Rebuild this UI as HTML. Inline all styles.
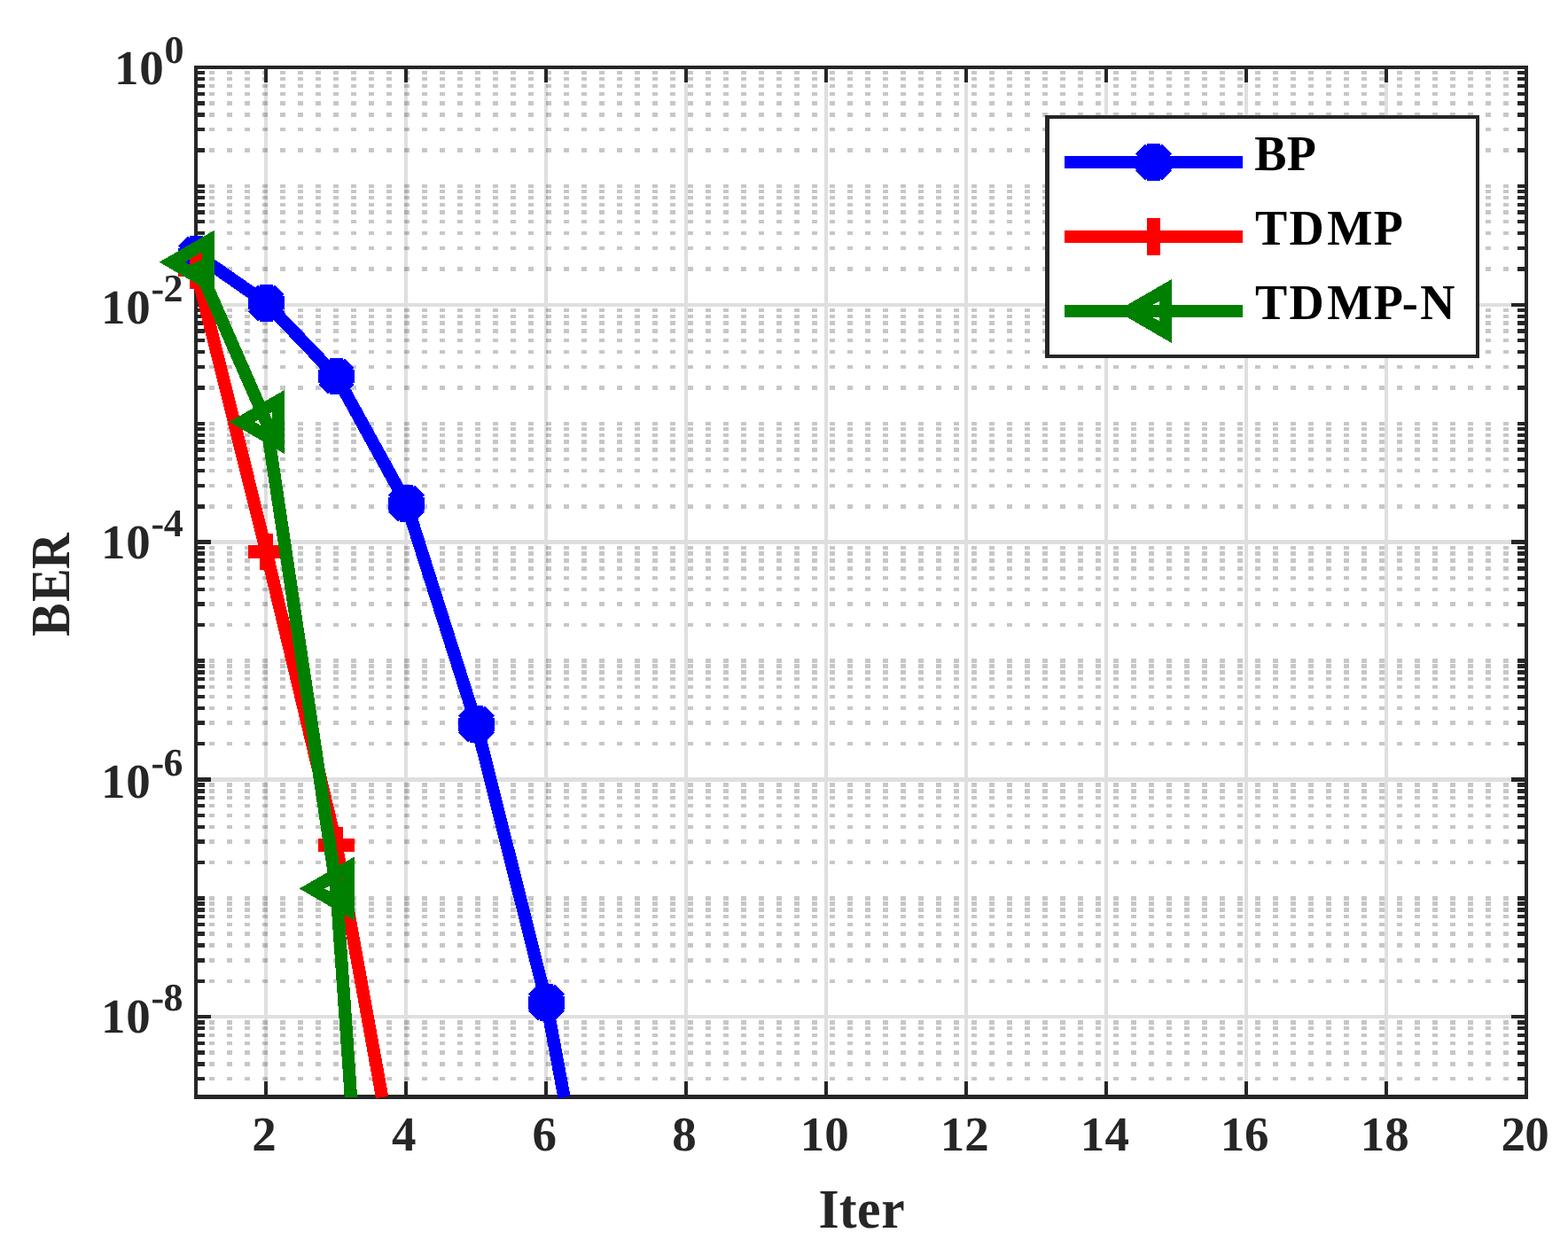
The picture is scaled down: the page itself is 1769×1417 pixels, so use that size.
<!DOCTYPE html>
<html lang="en"><head><meta charset="utf-8"><title>BER vs Iter</title>
<style>html,body{margin:0;padding:0;background:#fff}body{width:1769px;height:1417px;overflow:hidden}svg{display:block}text{font-family:"Liberation Serif","DejaVu Serif",serif;font-weight:bold;text-rendering:geometricPrecision}</style></head><body>
<svg width="1769" height="1417" viewBox="0 0 1769 1417">
<rect x="0" y="0" width="1769" height="1417" fill="#fff"/>
<g shape-rendering="crispEdges" fill="none">
<path stroke="#262626" stroke-opacity="0.26" stroke-width="4.4" stroke-dasharray="6 14" d="M236 82.23H1704M236 89.08H1704M236 96.84H1704M236 105.80H1704M236 116.40H1704M236 129.38H1704M236 146.11H1704M236 169.69H1704M236 209.99H1704M236 216.12H1704M236 222.97H1704M236 230.73H1704M236 239.69H1704M236 250.29H1704M236 263.27H1704M236 280.00H1704M236 303.58H1704M236 350.01H1704M236 356.86H1704M236 364.62H1704M236 373.58H1704M236 384.18H1704M236 397.16H1704M236 413.89H1704M236 437.47H1704M236 477.77H1704M236 483.90H1704M236 490.75H1704M236 498.51H1704M236 507.47H1704M236 518.07H1704M236 531.05H1704M236 547.78H1704M236 571.36H1704M236 617.79H1704M236 624.64H1704M236 632.40H1704M236 641.36H1704M236 651.96H1704M236 664.94H1704M236 681.67H1704M236 705.25H1704M236 745.55H1704M236 751.68H1704M236 758.53H1704M236 766.29H1704M236 775.25H1704M236 785.85H1704M236 798.83H1704M236 815.56H1704M236 839.14H1704M236 885.57H1704M236 892.42H1704M236 900.18H1704M236 909.14H1704M236 919.74H1704M236 932.72H1704M236 949.45H1704M236 973.03H1704M236 1013.33H1704M236 1019.46H1704M236 1026.31H1704M236 1034.07H1704M236 1043.03H1704M236 1053.63H1704M236 1066.61H1704M236 1083.34H1704M236 1106.92H1704M236 1153.35H1704M236 1160.20H1704M236 1167.96H1704M236 1176.92H1704M236 1187.52H1704M236 1200.50H1704M236 1217.23H1704"/>
<path stroke="#262626" stroke-opacity="0.15" stroke-width="4.4" d="M300.0 93.1V1220.5M458.0 93.1V1220.5M616.0 93.1V1220.5M774.0 93.1V1220.5M932.0 93.1V1220.5M1090.0 93.1V1220.5M1248.0 93.1V1220.5M1406.0 93.1V1220.5M1564.0 93.1V1220.5M238.0 343.88H1705.0M238.0 611.66H1705.0M238.0 879.44H1705.0M238.0 1147.22H1705.0"/>
<path stroke="#262626" stroke-width="4.4" stroke-linejoin="miter" d="M300.0 76.1v17M300.0 1237.5v-17.5M458.0 76.1v17M458.0 1237.5v-17.5M616.0 76.1v17M616.0 1237.5v-17.5M774.0 76.1v17M774.0 1237.5v-17.5M932.0 76.1v17M932.0 1237.5v-17.5M1090.0 76.1v17M1090.0 1237.5v-17.5M1248.0 76.1v17M1248.0 1237.5v-17.5M1406.0 76.1v17M1406.0 1237.5v-17.5M1564.0 76.1v17M1564.0 1237.5v-17.5M221.0 343.88h17M1722.0 343.88h-17M221.0 611.66h17M1722.0 611.66h-17M221.0 879.44h17M1722.0 879.44h-17M221.0 1147.22h17M1722.0 1147.22h-17M221.0 82.23h10M1722.0 82.23h-10M221.0 89.08h10M1722.0 89.08h-10M221.0 96.84h10M1722.0 96.84h-10M221.0 105.80h10M1722.0 105.80h-10M221.0 116.40h10M1722.0 116.40h-10M221.0 129.38h10M1722.0 129.38h-10M221.0 146.11h10M1722.0 146.11h-10M221.0 169.69h10M1722.0 169.69h-10M221.0 209.99h10M1722.0 209.99h-10M221.0 216.12h10M1722.0 216.12h-10M221.0 222.97h10M1722.0 222.97h-10M221.0 230.73h10M1722.0 230.73h-10M221.0 239.69h10M1722.0 239.69h-10M221.0 250.29h10M1722.0 250.29h-10M221.0 263.27h10M1722.0 263.27h-10M221.0 280.00h10M1722.0 280.00h-10M221.0 303.58h10M1722.0 303.58h-10M221.0 350.01h10M1722.0 350.01h-10M221.0 356.86h10M1722.0 356.86h-10M221.0 364.62h10M1722.0 364.62h-10M221.0 373.58h10M1722.0 373.58h-10M221.0 384.18h10M1722.0 384.18h-10M221.0 397.16h10M1722.0 397.16h-10M221.0 413.89h10M1722.0 413.89h-10M221.0 437.47h10M1722.0 437.47h-10M221.0 477.77h10M1722.0 477.77h-10M221.0 483.90h10M1722.0 483.90h-10M221.0 490.75h10M1722.0 490.75h-10M221.0 498.51h10M1722.0 498.51h-10M221.0 507.47h10M1722.0 507.47h-10M221.0 518.07h10M1722.0 518.07h-10M221.0 531.05h10M1722.0 531.05h-10M221.0 547.78h10M1722.0 547.78h-10M221.0 571.36h10M1722.0 571.36h-10M221.0 617.79h10M1722.0 617.79h-10M221.0 624.64h10M1722.0 624.64h-10M221.0 632.40h10M1722.0 632.40h-10M221.0 641.36h10M1722.0 641.36h-10M221.0 651.96h10M1722.0 651.96h-10M221.0 664.94h10M1722.0 664.94h-10M221.0 681.67h10M1722.0 681.67h-10M221.0 705.25h10M1722.0 705.25h-10M221.0 745.55h10M1722.0 745.55h-10M221.0 751.68h10M1722.0 751.68h-10M221.0 758.53h10M1722.0 758.53h-10M221.0 766.29h10M1722.0 766.29h-10M221.0 775.25h10M1722.0 775.25h-10M221.0 785.85h10M1722.0 785.85h-10M221.0 798.83h10M1722.0 798.83h-10M221.0 815.56h10M1722.0 815.56h-10M221.0 839.14h10M1722.0 839.14h-10M221.0 885.57h10M1722.0 885.57h-10M221.0 892.42h10M1722.0 892.42h-10M221.0 900.18h10M1722.0 900.18h-10M221.0 909.14h10M1722.0 909.14h-10M221.0 919.74h10M1722.0 919.74h-10M221.0 932.72h10M1722.0 932.72h-10M221.0 949.45h10M1722.0 949.45h-10M221.0 973.03h10M1722.0 973.03h-10M221.0 1013.33h10M1722.0 1013.33h-10M221.0 1019.46h10M1722.0 1019.46h-10M221.0 1026.31h10M1722.0 1026.31h-10M221.0 1034.07h10M1722.0 1034.07h-10M221.0 1043.03h10M1722.0 1043.03h-10M221.0 1053.63h10M1722.0 1053.63h-10M221.0 1066.61h10M1722.0 1066.61h-10M221.0 1083.34h10M1722.0 1083.34h-10M221.0 1106.92h10M1722.0 1106.92h-10M221.0 1153.35h10M1722.0 1153.35h-10M221.0 1160.20h10M1722.0 1160.20h-10M221.0 1167.96h10M1722.0 1167.96h-10M221.0 1176.92h10M1722.0 1176.92h-10M221.0 1187.52h10M1722.0 1187.52h-10M221.0 1200.50h10M1722.0 1200.50h-10M221.0 1217.23h10M1722.0 1217.23h-10M221.0 76.1H1722.0V1237.5H221.0Z"/>
</g>
<g shape-rendering="crispEdges">
<polyline points="221.50,287.00 300.50,341.90 379.50,424.50 458.50,568.00 537.50,817.00 616.50,1131.00 636.51,1238.00" fill="none" stroke="#0000ff" stroke-width="14.4" stroke-linejoin="miter"/>
<polygon points="214.00,266.05 229.00,266.05 229.00,268.89 231.01,266.88 241.62,277.49 239.61,279.50 242.45,279.50 242.45,294.50 239.61,294.50 241.62,296.51 231.01,307.12 229.00,305.11 229.00,307.95 214.00,307.95 214.00,305.11 211.99,307.12 201.38,296.51 203.39,294.50 200.55,294.50 200.55,279.50 203.39,279.50 201.38,277.49 211.99,266.88 214.00,268.89" fill="#0000ff"/>
<polygon points="293.00,320.95 308.00,320.95 308.00,323.79 310.01,321.78 320.62,332.39 318.61,334.40 321.45,334.40 321.45,349.40 318.61,349.40 320.62,351.41 310.01,362.02 308.00,360.01 308.00,362.85 293.00,362.85 293.00,360.01 290.99,362.02 280.38,351.41 282.39,349.40 279.55,349.40 279.55,334.40 282.39,334.40 280.38,332.39 290.99,321.78 293.00,323.79" fill="#0000ff"/>
<polygon points="372.00,403.55 387.00,403.55 387.00,406.39 389.01,404.38 399.62,414.99 397.61,417.00 400.45,417.00 400.45,432.00 397.61,432.00 399.62,434.01 389.01,444.62 387.00,442.61 387.00,445.45 372.00,445.45 372.00,442.61 369.99,444.62 359.38,434.01 361.39,432.00 358.55,432.00 358.55,417.00 361.39,417.00 359.38,414.99 369.99,404.38 372.00,406.39" fill="#0000ff"/>
<polygon points="451.00,547.05 466.00,547.05 466.00,549.89 468.01,547.88 478.62,558.49 476.61,560.50 479.45,560.50 479.45,575.50 476.61,575.50 478.62,577.51 468.01,588.12 466.00,586.11 466.00,588.95 451.00,588.95 451.00,586.11 448.99,588.12 438.38,577.51 440.39,575.50 437.55,575.50 437.55,560.50 440.39,560.50 438.38,558.49 448.99,547.88 451.00,549.89" fill="#0000ff"/>
<polygon points="530.00,796.05 545.00,796.05 545.00,798.89 547.01,796.88 557.62,807.49 555.61,809.50 558.45,809.50 558.45,824.50 555.61,824.50 557.62,826.51 547.01,837.12 545.00,835.11 545.00,837.95 530.00,837.95 530.00,835.11 527.99,837.12 517.38,826.51 519.39,824.50 516.55,824.50 516.55,809.50 519.39,809.50 517.38,807.49 527.99,796.88 530.00,798.89" fill="#0000ff"/>
<polygon points="609.00,1110.05 624.00,1110.05 624.00,1112.89 626.01,1110.88 636.62,1121.49 634.61,1123.50 637.45,1123.50 637.45,1138.50 634.61,1138.50 636.62,1140.51 626.01,1151.12 624.00,1149.11 624.00,1151.95 609.00,1151.95 609.00,1149.11 606.99,1151.12 596.38,1140.51 598.39,1138.50 595.55,1138.50 595.55,1123.50 598.39,1123.50 596.38,1121.49 606.99,1110.88 609.00,1112.89" fill="#0000ff"/>
<polyline points="221.50,305.00 300.50,622.50 379.50,953.50 431.11,1238.00" fill="none" stroke="#ff0000" stroke-width="14.4" stroke-linejoin="miter"/>
<path d="M200.55 297.80H242.45V312.20H200.55ZM214.30 284.05H228.70V325.95H214.30Z" fill="#ff0000"/>
<path d="M279.55 615.30H321.45V629.70H279.55ZM293.30 601.55H307.70V643.45H293.30Z" fill="#ff0000"/>
<path d="M358.55 946.30H400.45V960.70H358.55ZM372.30 932.55H386.70V974.45H372.30Z" fill="#ff0000"/>
<polyline points="221.50,295.75 300.50,476.00 379.50,1002.50 395.94,1238.00" fill="none" stroke="#008000" stroke-width="14.4" stroke-linejoin="miter"/>
<path d="M179.60 295.75 L242.45 259.46 L242.45 332.04 Z M208.40 295.75 L228.05 307.09 L228.05 284.41 Z" fill="#008000" fill-rule="evenodd"/>
<path d="M258.60 476.00 L321.45 439.71 L321.45 512.29 Z M287.40 476.00 L307.05 487.34 L307.05 464.66 Z" fill="#008000" fill-rule="evenodd"/>
<path d="M337.60 1002.50 L400.45 966.21 L400.45 1038.79 Z M366.40 1002.50 L386.05 1013.84 L386.05 991.16 Z" fill="#008000" fill-rule="evenodd"/>
<rect x="1181.5" y="132" width="485.5" height="270" fill="#fff" stroke="#262626" stroke-width="4.4"/>
<path d="M1201.0 183.0H1402.0" stroke="#0000ff" stroke-width="14.4" fill="none"/>
<polygon points="1294.00,162.05 1309.00,162.05 1309.00,164.89 1311.01,162.88 1321.62,173.49 1319.61,175.50 1322.45,175.50 1322.45,190.50 1319.61,190.50 1321.62,192.51 1311.01,203.12 1309.00,201.11 1309.00,203.95 1294.00,203.95 1294.00,201.11 1291.99,203.12 1281.38,192.51 1283.39,190.50 1280.55,190.50 1280.55,175.50 1283.39,175.50 1281.38,173.49 1291.99,162.88 1294.00,164.89" fill="#0000ff"/>
<path d="M1201.0 267.0H1402.0" stroke="#ff0000" stroke-width="14.4" fill="none"/>
<path d="M1280.55 259.80H1322.45V274.20H1280.55ZM1294.30 246.05H1308.70V287.95H1294.30Z" fill="#ff0000"/>
<path d="M1201.0 351.0H1402.0" stroke="#008000" stroke-width="14.4" fill="none"/>
<path d="M1259.60 351.00 L1322.45 314.71 L1322.45 387.29 Z M1288.40 351.00 L1308.05 362.34 L1308.05 339.66 Z" fill="#008000" fill-rule="evenodd"/>
</g>
<text id="xt2" transform="translate(284.30 1298.00)" x="0.00" y="0" font-size="55.00" fill="#262626">2</text>
<text id="xt4" transform="translate(441.89 1298.00)" x="0.00" y="0" font-size="55.00" fill="#262626">4</text>
<text id="xt6" transform="translate(600.46 1298.00)" x="0.00" y="0" font-size="55.00" fill="#262626">6</text>
<text id="xt8" transform="translate(758.30 1298.00)" x="0.00" y="0" font-size="55.00" fill="#262626">8</text>
<text id="xt10" transform="translate(902.69 1298.00)" x="0.00 27.56" y="0" font-size="55.00" fill="#262626">10</text>
<text id="xt12" transform="translate(1060.69 1298.00)" x="0.00 27.56" y="0" font-size="55.00" fill="#262626">12</text>
<text id="xt14" transform="translate(1218.69 1298.00)" x="0.00 27.69" y="0" font-size="55.00" fill="#262626">14</text>
<text id="xt16" transform="translate(1376.69 1298.00)" x="0.00 27.42" y="0" font-size="55.00" fill="#262626">16</text>
<text id="xt18" transform="translate(1534.69 1298.00)" x="0.00 27.56" y="0" font-size="55.00" fill="#262626">18</text>
<text id="xt20" transform="translate(1693.45 1298.00)" x="0.00 26.80" y="0" font-size="55.00" fill="#262626">20</text>
<text id="yt0" transform="translate(129.03 95.30)" x="0.00 28.16" y="0" font-size="55.00" fill="#262626">10</text>
<text id="ys0" transform="translate(185.50 70.60)" x="0.00" y="0" font-size="44.00" fill="#262626">0</text>
<text id="yt2" transform="translate(113.99 365.30)" x="0.00 28.16" y="0" font-size="55.00" fill="#262626">10</text>
<text id="ys2" transform="translate(170.38 340.00)" x="0.00 14.22" y="0" font-size="44.00" fill="#262626">-2</text>
<text id="yt4" transform="translate(113.99 630.30)" x="0.00 28.16" y="0" font-size="55.00" fill="#262626">10</text>
<text id="ys4" transform="translate(170.38 605.00)" x="0.00 14.33" y="0" font-size="44.00" fill="#262626">-4</text>
<text id="yt6" transform="translate(113.99 900.30)" x="0.00 28.16" y="0" font-size="55.00" fill="#262626">10</text>
<text id="ys6" transform="translate(170.38 875.00)" x="0.00 14.11" y="0" font-size="44.00" fill="#262626">-6</text>
<text id="yt8" transform="translate(113.99 1165.30)" x="0.00 28.16" y="0" font-size="55.00" fill="#262626">10</text>
<text id="ys8" transform="translate(170.38 1140.00)" x="0.00 14.22" y="0" font-size="44.00" fill="#262626">-8</text>
<text id="xlab" transform="translate(923.47 1385.00) scale(0.9500 1)" x="0.00 24.57 45.91 74.46" y="0" font-size="62.66" fill="#262626">Iter</text>
<text id="ylab" transform="translate(78.00 717.92) rotate(-90) scale(0.9000 1)" x="0.00 43.34 84.41" y="0" font-size="62.60" fill="#262626">BER</text>
<text id="leg1" transform="translate(1415.32 192.00) scale(0.9600 1)" x="0.00 38.08" y="0" font-size="56.50" fill="#000">BP</text>
<text id="leg2" transform="translate(1415.90 276.00) scale(0.9600 1)" x="0.00 40.09 84.70 139.51" y="0" font-size="56.50" fill="#000">TDMP</text>
<text id="leg3" transform="translate(1415.90 360.00) scale(0.9600 1)" x="0.00 40.09 84.70 139.51 172.88 194.17" y="0" font-size="56.50" fill="#000">TDMP-N</text>
</svg></body></html>
